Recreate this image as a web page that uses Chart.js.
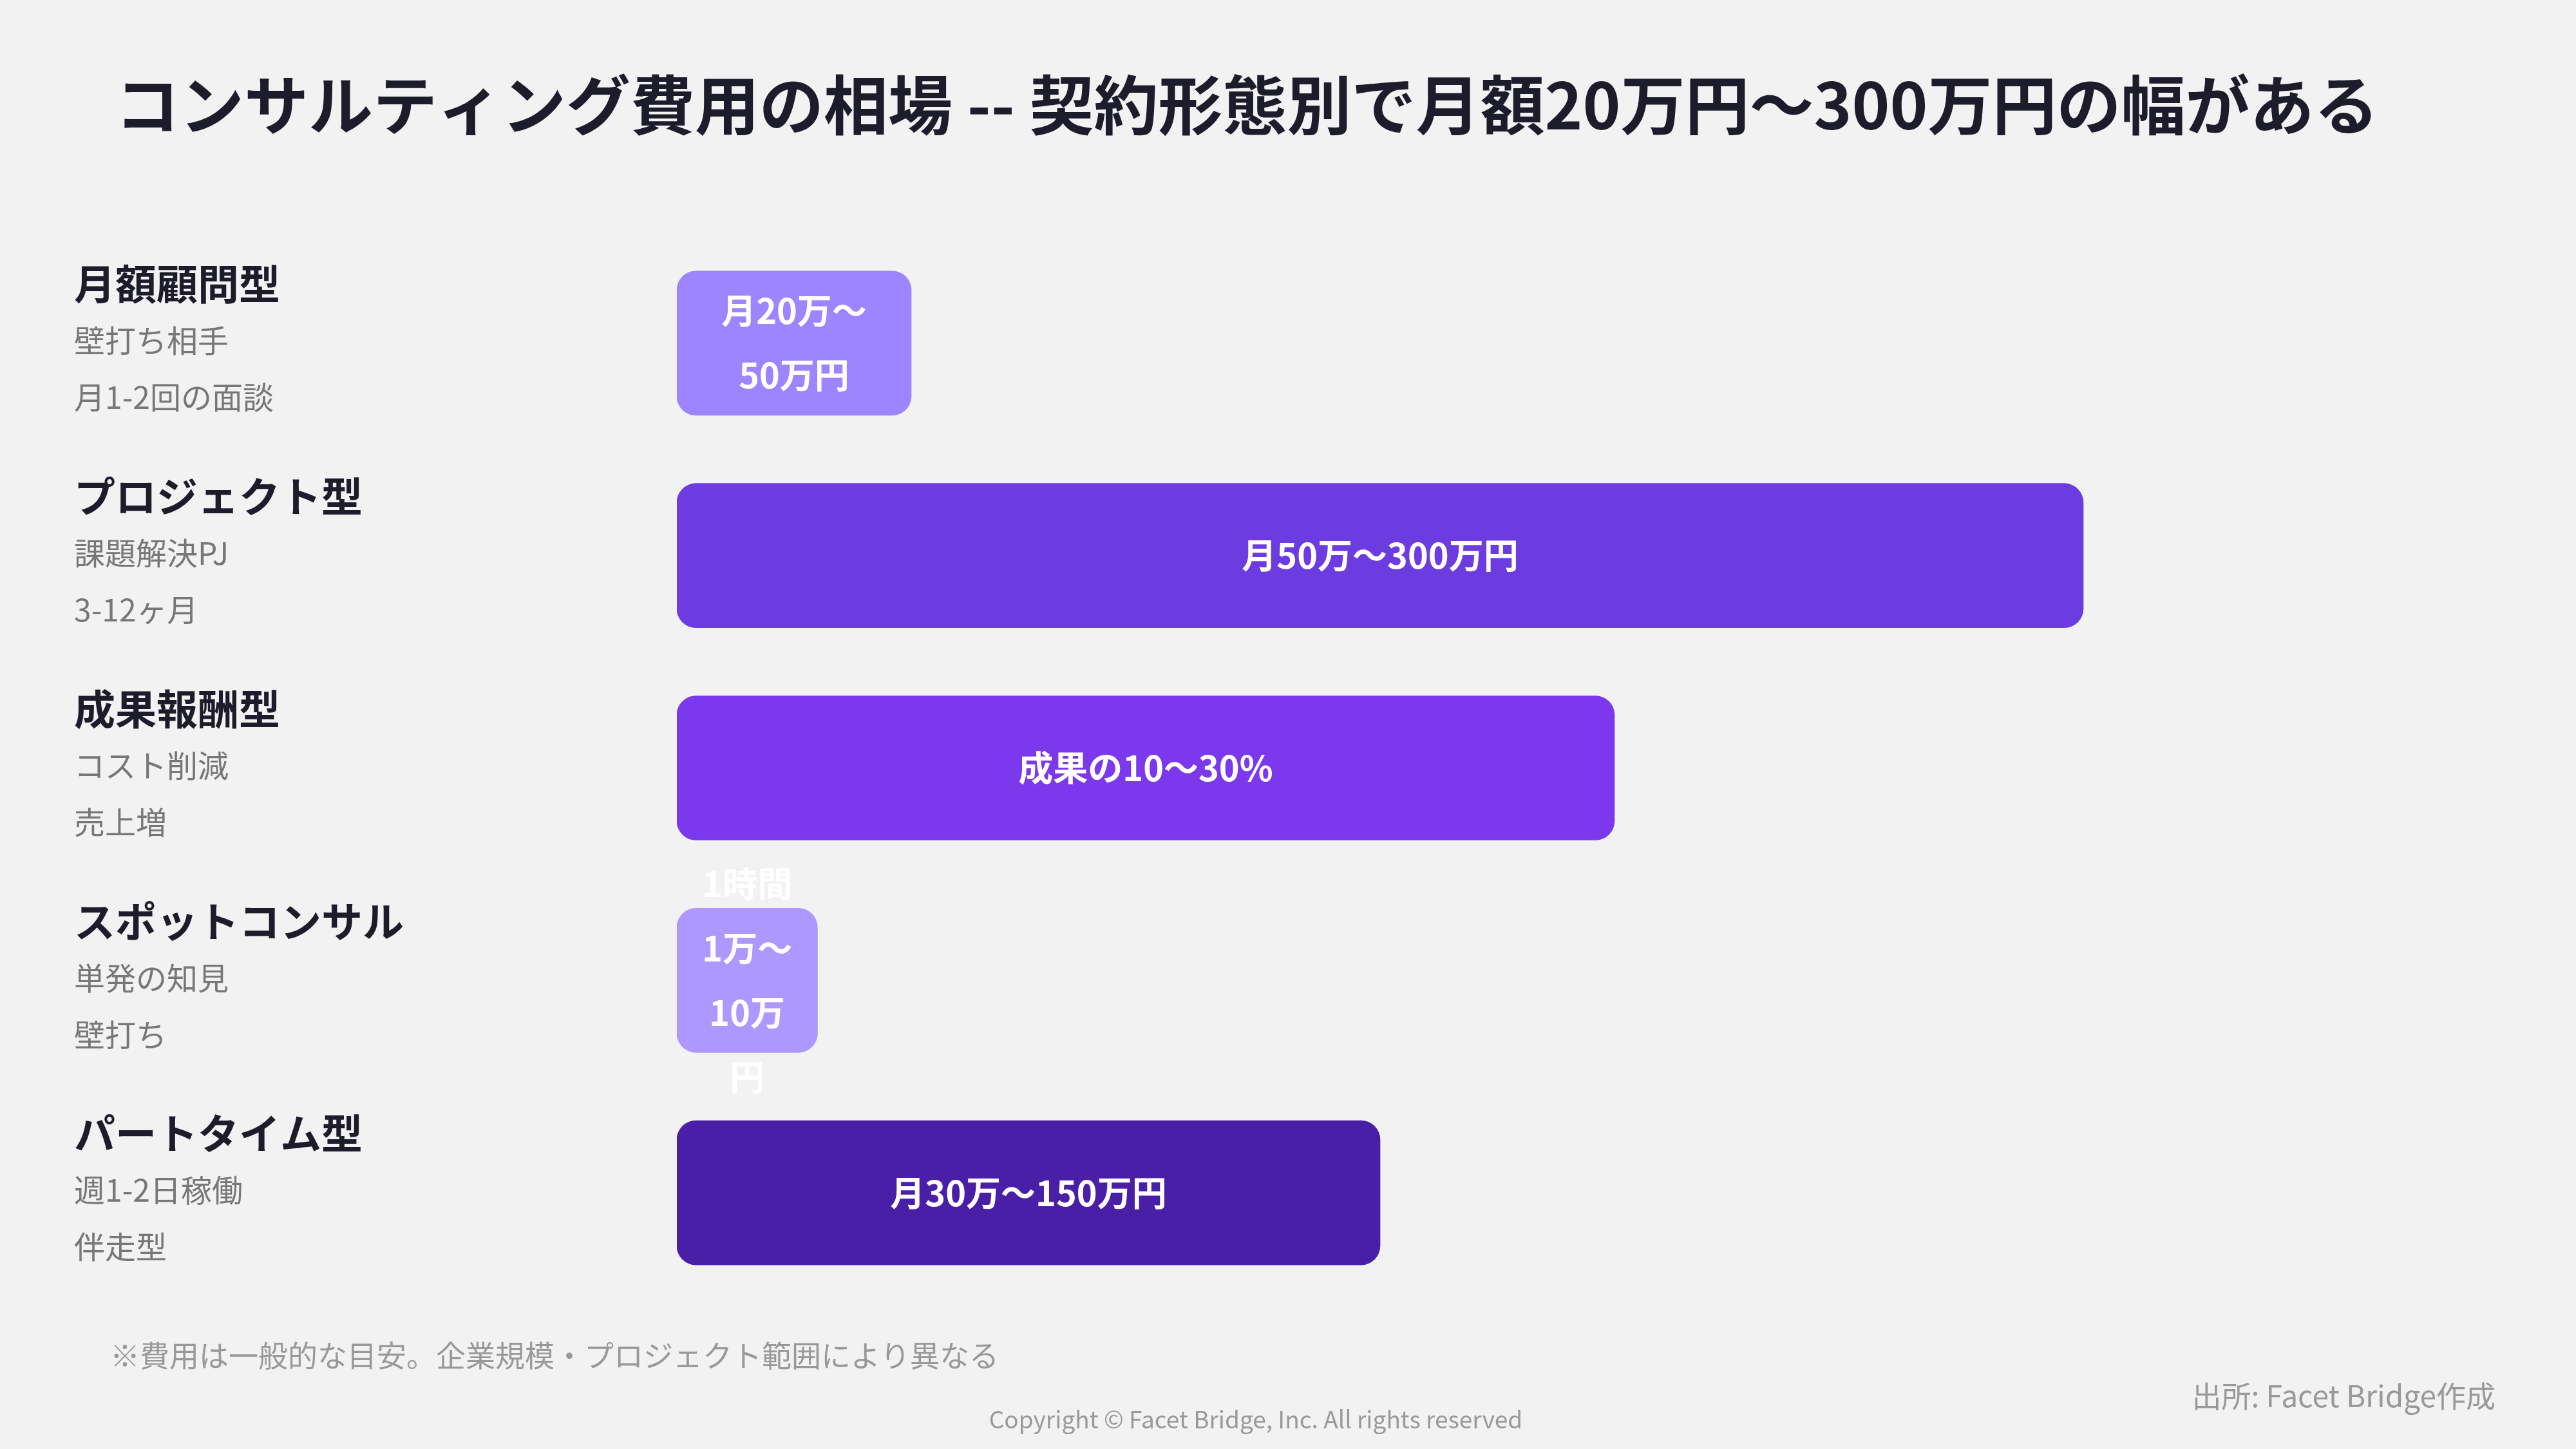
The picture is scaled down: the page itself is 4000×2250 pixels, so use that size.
<!DOCTYPE html>
<html><head><meta charset="utf-8">
<script src="https://cdn.jsdelivr.net/npm/chart.js@4/dist/chart.umd.min.js"></script>
<style>html,body{margin:0;padding:0;background:#f2f2f2}#w{width:4000px;height:2250px;position:relative}</style>
</head><body><div id="w"><canvas id="c"></canvas></div>
<script>
const categories=["月額顧問型","プロジェクト型","成果報酬型","スポットコンサル","パートタイム型"];
const subLabels=[["壁打ち相手","月1-2回の面談"],["課題解決PJ","3-12ヶ月"],["コスト削減","売上増"],["単発の知見","壁打ち"],["週1-2日稼働","伴走型"]];
const values=[50,300,200,30,150];
const barLabels=[["月20万〜","50万円"],["月50万〜300万円"],["成果の10〜30%"],["1時間","1万〜","10万","円"],["月30万〜150万円"]];
const colors=["#9d85ff","#6c3ce1","#7b38ec","#ad98ff","#4a1fa8"];
const F='"Noto Sans CJK JP","Noto Sans",sans-serif';
const textPlugin={id:'txt',afterDatasetsDraw(ch){
 const c=ch.ctx,meta=ch.getDatasetMeta(0);
 c.save();c.textBaseline='middle';
 c.fillStyle='#1c1c2b';c.font='bold 100px '+F;c.textAlign='left';
 c.fillText("コンサルティング費用の相場 -- 契約形態別で月額20万円〜300万円の幅がある",179,163);
 meta.data.forEach((b,i)=>{
  const y=b.y;
  c.textAlign='left';c.fillStyle='#1c1c2b';c.font='bold 64px '+F;
  c.fillText(categories[i],115,y-92);
  c.fillStyle='#777';c.font='48px '+F;
  c.fillText(subLabels[i][0],115,y-4);c.fillText(subLabels[i][1],115,y+84);
  const L=barLabels[i];c.fillStyle='#fff';c.font='bold 54px '+F;c.textAlign='center';
  const sp=100,cx=(b.base+b.x)/2;
  L.forEach((t,k)=>c.fillText(t,cx,y+(k-(L.length-1)/2)*sp));
 });
 c.textAlign='left';c.fillStyle='#999';c.font='46px '+F;
 c.fillText("※費用は一般的な目安。企業規模・プロジェクト範囲により異なる",171,2105);
 c.textAlign='right';c.fillText("出所: Facet Bridge作成",3875,2168);
 c.textAlign='center';c.font='37px '+F;c.fillText("Copyright © Facet Bridge, Inc. All rights reserved",1950,2204);
 c.restore();}};
new Chart(document.getElementById('c'),{type:'bar',
 data:{labels:categories,datasets:[{data:values,backgroundColor:colors,borderRadius:30,borderSkipped:false,barThickness:224}]},
 options:{indexAxis:'y',responsive:true,maintainAspectRatio:false,animation:false,devicePixelRatio:1,
  layout:{padding:{left:1051,right:37,top:368,bottom:233}},
  plugins:{legend:{display:false},tooltip:{enabled:false}},
  scales:{x:{display:false,min:0,max:400},y:{display:false}}},
 plugins:[textPlugin]});
</script></body></html>
